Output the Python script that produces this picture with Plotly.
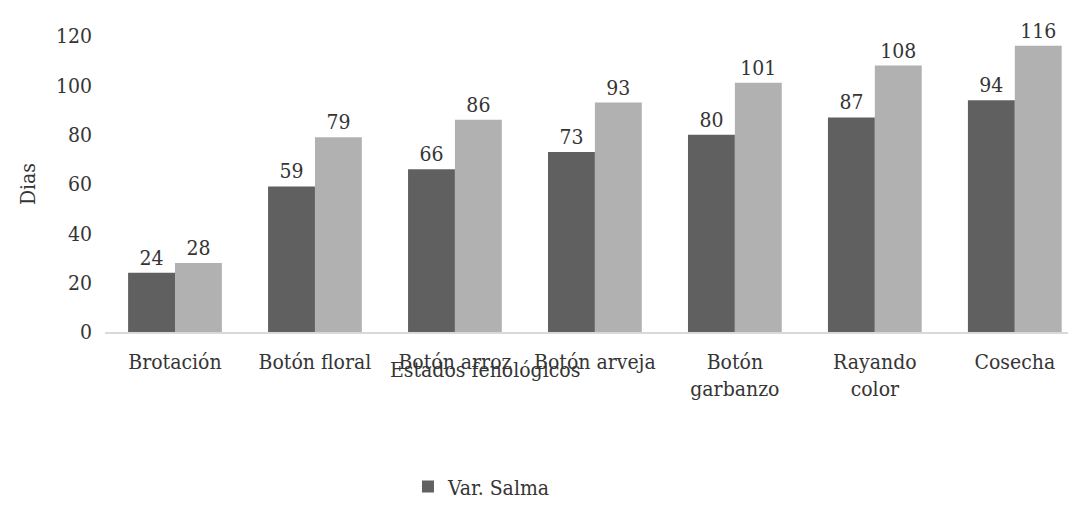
import plotly.graph_objects as go

# Phenological stages (x categories) and days to reach each stage
estados = ["Brotación", "Botón floral", "Botón arroz", "Botón arveja",
           "Botón<br>garbanzo", "Rayando<br>color", "Cosecha"]
dias_salma = [24, 59, 66, 73, 80, 87, 94]
dias_otra = [28, 79, 86, 93, 101, 108, 116]

FONT = "DejaVu Serif Condensed"
FS = 21
TXT = "#353535"

fig = go.Figure()
fig.add_trace(go.Bar(
    x=estados, y=dias_salma, name="Var. Salma",
    marker=dict(color="#606060", line=dict(width=0)),
    text=dias_salma, textposition="outside", cliponaxis=False,
    textfont=dict(family=FONT, size=FS, color=TXT),
))
fig.add_trace(go.Bar(
    x=estados, y=dias_otra, name="Var. 2", showlegend=False,
    marker=dict(color="#b1b1b1", line=dict(width=0)),
    text=dias_otra, textposition="outside", cliponaxis=False,
    textfont=dict(family=FONT, size=FS, color=TXT),
))

fig.update_layout(
    width=1068, height=518,
    margin=dict(l=105, r=0, t=36, b=186),
    paper_bgcolor="white", plot_bgcolor="white",
    barmode="group", bargap=0.33, bargroupgap=0,
    font=dict(family=FONT, size=FS, color=TXT),
    uniformtext=dict(minsize=FS, mode="show"),
    xaxis=dict(
        type="category", range=[-0.5, 6.38],
        showline=True, linecolor="#d9d9d9", linewidth=1.5,
        showgrid=False, ticks="", ticklabelstandoff=10,
        tickfont=dict(family=FONT, size=FS, color=TXT),
    ),
    yaxis=dict(
        range=[0, 120], tickvals=[0, 20, 40, 60, 80, 100, 120],
        showgrid=False, showline=False, zeroline=False,
        ticks="", ticklabelstandoff=12,
        tickfont=dict(family=FONT, size=FS, color=TXT),
        title=dict(text="Dias", font=dict(family=FONT, size=FS, color=TXT), standoff=14),
    ),
    showlegend=True,
    legend=dict(
        orientation="h", xref="container", yref="container",
        x=0.382, y=0.06, xanchor="left", yanchor="middle",
        font=dict(family=FONT, size=FS, color=TXT),
        bgcolor="rgba(0,0,0,0)",
    ),
    annotations=[dict(
        text="Estados fenológicos", xref="paper", yref="paper",
        x=(485 - 105) / 963, y=-0.13, xanchor="center", yanchor="middle",
        showarrow=False, font=dict(family=FONT, size=FS, color=TXT),
    )],
)

fig.write_html("out.html")
